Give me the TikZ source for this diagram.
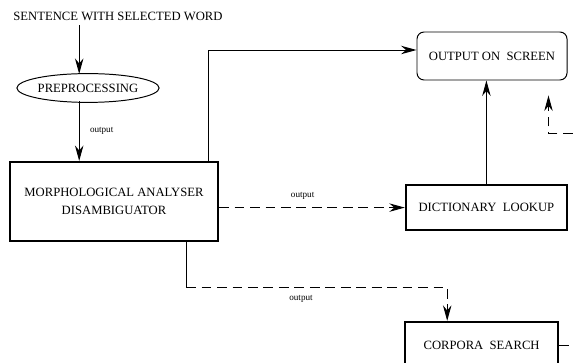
\documentclass[tikz,border=0pt]{standalone}
\usepackage{fontspec}
\setmainfont{Liberation Serif}
\usetikzlibrary{arrows.meta,calc,shapes.geometric}

\begin{document}
\begin{tikzpicture}[
    thickbox/.style={draw, line width=1.6pt, inner sep=0pt, align=center},
    link/.style={-{Stealth[length=11pt,width=6pt]}, line width=0.7pt},
    dashlink/.style={link, dash pattern=on 7pt off 4pt},
    lbl/.style={font=\fontsize{6.5}{8}\selectfont},
    every node/.append style={font=\fontsize{9}{13}\selectfont}]
          \useasboundingbox (0,0) rectangle (14.35,-9.075);

          \node (Sentence) at (2.95,-0.4) {SENTENCE WITH SELECTED WORD};
          \node[draw, ellipse, line width=0.7pt, minimum width=3.45cm, minimum height=0.72cm, inner sep=0pt] (Preprocessing) at (2.2,-2.2) {PREPROCESSING};
          \node[thickbox, minimum width=5.2cm, minimum height=1.975cm] (Analyser) at (2.85,-5.04) {MORPHOLOGICAL ANALYSER\\DISAMBIGUATOR};
          \node[draw, rounded corners=5pt, line width=0.7pt, minimum width=3.75cm, minimum height=1.2cm] (Screen) at (12.3,-1.4) {OUTPUT ON\ \ SCREEN};
          \node[thickbox, minimum width=4.025cm, minimum height=1.125cm] (Dictionary) at (12.16,-5.19) {DICTIONARY\ \ LOOKUP};
          \node[thickbox, minimum width=3.825cm, minimum height=1.15cm] (Corpora) at (12.04,-8.625) {CORPORA\ \ SEARCH};
          \coordinate (Top) at ([xshift=-0.22cm, yshift=-0.02cm]Preprocessing.north);
          \coordinate (Drop) at ([xshift=-0.825cm]Analyser.south east);
          \coordinate (Back) at ([xshift=-0.475cm, yshift=-0.375cm]Screen.south east);

          \draw[link] (Sentence.south -| Top) to (Top);
          \draw[link] ([yshift=0.04cm]Preprocessing.south -| Top) to node[right, lbl, xshift=4pt] {output} (Analyser.north -| Top);
          \draw[link] ([xshift=-0.275cm]Analyser.north east) |- ([yshift=0.15cm]Screen.west);
          \draw[dashlink] (Analyser.east |- Dictionary.west) to node[above, lbl, pos=0.45, yshift=2pt] {output} (Dictionary.west);
          \draw[link] (Dictionary.north) to (Dictionary.north |- Screen.south);
          \draw[line width=0.7pt] (Drop) -- (Drop |- 0,-7.175);
          \draw[dashlink] (Drop |- 0,-7.175) -| node[below, lbl, pos=0.22, yshift=-2pt] {output} ([xshift=-0.86cm]Corpora.north);
          \draw[dashlink] (Corpora.east) -- ++(1,0) |- (Back |- 0,-3.325) -- (Back);
        \end{tikzpicture}
\end{document}
